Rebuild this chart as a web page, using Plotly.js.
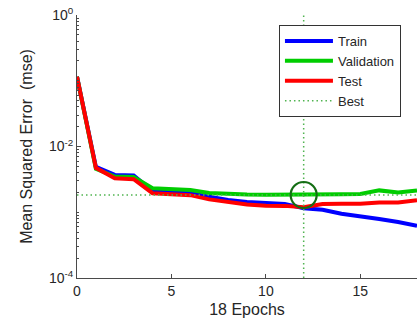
<!DOCTYPE html>
<html>
<head>
<meta charset="utf-8">
<script src="https://cdn.plot.ly/plotly-3.0.1.min.js"></script>
<style>
  html, body { margin: 0; padding: 0; background: #fff; }
  #plot { width: 420px; height: 334px; }
</style>
</head>
<body>
<div id="plot"></div>
<script>
// Training performance: mean squared error per epoch
const epochs = [0, 1, 2, 3, 4, 5, 6, 7, 8, 9, 10, 11, 12, 13, 14, 15, 16, 17, 18];
const trainMse = [0.115, 0.0049, 0.0037, 0.00364, 0.00211, 0.00204, 0.00196, 0.00172, 0.00154, 0.00143,
                  0.00138, 0.00134, 0.00115, 0.00109, 0.00095, 0.00088, 0.00079, 0.00071, 0.00062];
const validationMse = [0.115, 0.00457, 0.0035, 0.00343, 0.00232, 0.00226, 0.00218, 0.00196, 0.00188, 0.00186,
                       0.00185, 0.00185, 0.00183, 0.00185, 0.00188, 0.0019, 0.00215, 0.002, 0.00215];
const testMse = [0.115, 0.00473, 0.0033, 0.00318, 0.00195, 0.0019, 0.00182, 0.00157, 0.00143, 0.00131,
                 0.00126, 0.00125, 0.00119, 0.00133, 0.00135, 0.00135, 0.00141, 0.00141, 0.00153];
const bestEpoch = 12;
const yTickVals = [1, 0.01, 0.0001];
const yTickText = ['10<sup>0</sup>', '10<sup>-2</sup>', '10<sup>-4</sup>'];
const xTickVals = [0, 5, 10, 15];
const seriesNames = ['Train', 'Validation', 'Test', 'Best'];

const bestValue = validationMse[bestEpoch];
const FONT = 'Liberation Sans, Arial, sans-serif';
const INK = '#262626';
const AXIS = '#4a4a4a';
const BEST_COLOR = 'rgb(80,180,80)';

const lastEpoch = epochs[epochs.length - 1];

const traces = [
  { x: epochs, y: trainMse, name: seriesNames[0], mode: 'lines',
    line: { color: 'rgb(0,0,255)', width: 4 } },
  { x: epochs, y: validationMse, name: seriesNames[1], mode: 'lines',
    line: { color: 'rgb(0,205,0)', width: 4 } },
  { x: epochs, y: testMse, name: seriesNames[2], mode: 'lines',
    line: { color: 'rgb(255,0,0)', width: 4 } },
  // horizontal guide at the best validation error
  { x: [epochs[0], lastEpoch], y: [bestValue, bestValue], name: seriesNames[3], mode: 'lines',
    line: { color: BEST_COLOR, width: 1.5, dash: '1.5px,3px' } },
  // vertical guide at the best epoch
  { x: [bestEpoch, bestEpoch], y: [1e-4, 1], mode: 'lines', showlegend: false,
    line: { color: BEST_COLOR, width: 1.5, dash: '1.5px,3px' } },
  // circle around the best validation point
  { x: [bestEpoch], y: [bestValue], mode: 'markers', showlegend: false,
    marker: { symbol: 'circle-open', size: 26, color: 'rgb(20,110,20)', line: { width: 2.2, color: 'rgb(20,110,20)' } } }
];

const layout = {
  width: 420, height: 334,
  margin: { l: 77, r: 3, t: 15, b: 56 },
  paper_bgcolor: '#fff', plot_bgcolor: '#fff',
  font: { family: FONT, color: INK, size: 13 },
  showlegend: true,
  legend: {
    x: 0.594, y: 0.962, xanchor: 'left', yanchor: 'top',
    bgcolor: '#fff', bordercolor: '#333', borderwidth: 1,
    font: { family: FONT, size: 13, color: INK },
    itemwidth: 48,
    tracegroupgap: 0
  },
  xaxis: {
    range: [0, lastEpoch], tickmode: 'array', tickvals: xTickVals,
    ticks: 'inside', ticklen: 4, tickcolor: AXIS,
    showline: true, linecolor: AXIS, linewidth: 1,
    showgrid: false, zeroline: false,
    tickfont: { family: FONT, size: 14, color: INK },
    title: { text: '18 Epochs', font: { family: FONT, size: 16, color: INK }, standoff: 6 }
  },
  yaxis: {
    type: 'log', range: [-4, 0], tickmode: 'array', tickvals: yTickVals, ticktext: yTickText,
    ticks: 'inside', ticklen: 4, tickcolor: AXIS,
    minor: { dtick: 'D1', ticks: 'inside', ticklen: 2, tickcolor: AXIS, showgrid: false },
    showline: true, linecolor: AXIS, linewidth: 1,
    showgrid: false, zeroline: false,
    tickfont: { family: FONT, size: 14, color: INK },
    title: { text: 'Mean Squared Error  (mse)', font: { family: FONT, size: 16, color: INK }, standoff: 12 }
  }
};

Plotly.newPlot('plot', traces, layout, { displayModeBar: false, staticPlot: true });
</script>
</body>
</html>
